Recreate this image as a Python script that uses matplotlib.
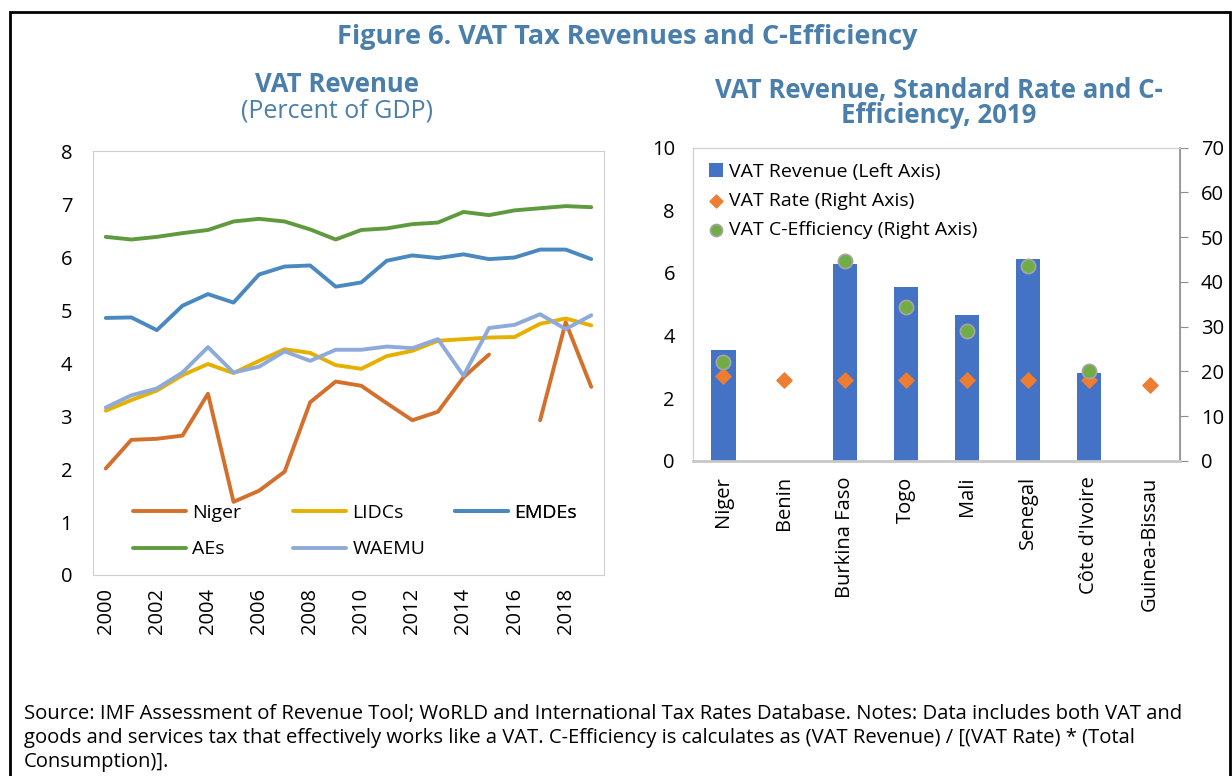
import numpy as np
import matplotlib
matplotlib.use("Agg")
import matplotlib.pyplot as plt
from matplotlib.patches import Rectangle

plt.rcParams["font.family"] = ["Open Sans", "DejaVu Sans"]

# --- left panel: VAT revenue, percent of GDP ---
years = list(range(2000, 2020))
niger = [2.01, 2.55, 2.57, 2.63, 3.42, 1.38, 1.59, 1.95, 3.26, 3.65,
         3.57, 3.24, 2.92, 3.08, 3.73, 4.16, np.nan, 2.92, 4.77, 3.55]
lidcs = [3.10, 3.30, 3.48, 3.77, 3.98, 3.81, 4.04, 4.26, 4.19, 3.96,
         3.89, 4.13, 4.23, 4.42, 4.45, 4.48, 4.49, 4.74, 4.84, 4.71]
emdes = [4.85, 4.86, 4.62, 5.08, 5.30, 5.14, 5.67, 5.82, 5.84, 5.44,
         5.52, 5.93, 6.03, 5.98, 6.05, 5.96, 5.99, 6.14, 6.14, 5.96]
aes = [6.38, 6.33, 6.38, 6.45, 6.51, 6.67, 6.72, 6.67, 6.52, 6.33,
       6.51, 6.54, 6.62, 6.65, 6.85, 6.79, 6.88, 6.92, 6.96, 6.94]
waemu = [3.16, 3.39, 3.52, 3.82, 4.30, 3.82, 3.93, 4.22, 4.04, 4.25,
         4.25, 4.31, 4.28, 4.45, 3.76, 4.66, 4.72, 4.92, 4.64, 4.90]

# --- right panel: 2019 by country ---
countries = ["Niger", "Benin", "Burkina Faso", "Togo", "Mali", "Senegal",
             "Côte d'Ivoire", "Guinea-Bissau"]
vat_revenue = [3.55, np.nan, 6.27, 5.55, 4.67, 6.44, 2.81, np.nan]
vat_rate = [19, 18, 18, 18, 18, 18, 18, 17]
c_efficiency = [22.0, np.nan, 44.7, 34.3, 29.0, 43.5, 20.2, np.nan]

TITLE_BLUE = "#4a7eab"
FRAME = "#d0d0d0"
W, H = 1232, 776


def fx(px):
    return px / W


def fy(py):
    return 1 - py / H


fig = plt.figure(figsize=(12.32, 7.76), dpi=100)

# outer black box
fig.patches.append(Rectangle((fx(10), -0.05), fx(1220), 1.05 - 12 / H,
                             transform=fig.transFigure, fill=False,
                             edgecolor="black", linewidth=2))

fig.text(fx(627), fy(37), "Figure 6. VAT Tax Revenues and C-Efficiency",
         ha="center", va="center", fontsize=19.5, fontweight="bold", color=TITLE_BLUE)
fig.text(fx(337), fy(85), "VAT Revenue", ha="center", va="center",
         fontsize=18.5, fontweight="bold", color=TITLE_BLUE)
fig.text(fx(337), fy(111), "(Percent of GDP)", ha="center", va="center",
         fontsize=18, color=TITLE_BLUE)
fig.text(fx(939), fy(103), "VAT Revenue, Standard Rate and C-\nEfficiency, 2019",
         ha="center", va="center", fontsize=18.5, fontweight="bold", color=TITLE_BLUE,
         linespacing=0.92)

# left chart
ax = fig.add_axes([fx(93), fy(575), fx(511), 424 / H])
series = [("Niger", niger, "#d4702c"), ("LIDCs", lidcs, "#e6b000"),
          ("EMDEs", emdes, "#4a89c0"), ("AEs", aes, "#5f9b3e"),
          ("WAEMU", waemu, "#8eaadb")]
handles = {}
for name, vals, col in series:
    handles[name], = ax.plot(years, vals, color=col, linewidth=2.8,
                             solid_capstyle="round", label=name)
ax.set_xlim(1999.5, 2019.5)
ax.set_ylim(0, 8)
ax.set_yticks(range(0, 9))
ax.set_xticks(range(2000, 2020, 2))
ax.tick_params(axis="both", length=0, labelsize=14.5)
ax.tick_params(axis="y", pad=15)
ax.tick_params(axis="x", pad=9, labelrotation=90)
for s in ax.spines.values():
    s.set_color(FRAME)

# legend laid out as three columns, like the spreadsheet legend
legend_cols = [(["Niger", "AEs"], 133), (["LIDCs", "WAEMU"], 293), (["EMDEs"], 455)]
for names, left in legend_cols:
    leg = ax.legend([handles[k] for k in names], names, loc="upper left",
                    bbox_to_anchor=(fx(left), fy(504)), bbox_transform=fig.transFigure,
                    frameon=False, fontsize=14, handlelength=2.75, handletextpad=0.3,
                    labelspacing=0.95, borderpad=0, borderaxespad=0)
    ax.add_artist(leg)

# right chart
ax2 = fig.add_axes([fx(693), fy(461), fx(487), 313.5 / H])
x = np.arange(len(countries))
ax2.bar(x, vat_revenue, width=0.4, color="#4472c4", label="VAT Revenue (Left Axis)")
ax2.set_xlim(-0.5, 7.5)
ax2.set_ylim(0, 10)
ax2.set_yticks(range(0, 11, 2))
ax2.set_xticks(x)
ax2.set_xticklabels(countries, rotation=90)
ax2.tick_params(axis="both", length=0, labelsize=14.5)
ax2.tick_params(axis="y", pad=13)
ax2.tick_params(axis="x", pad=11)
for s in ax2.spines.values():
    s.set_color(FRAME)

ax3 = ax2.twinx()
ax3.scatter(x, vat_rate, marker="D", s=60, color="#ed7d31", zorder=3,
            label="VAT Rate (Right Axis)")
ax3.scatter(x, c_efficiency, marker="o", s=105, color="#70ad47",
            edgecolor="#a5a5a5", linewidth=1.2, zorder=4,
            label="VAT C-Efficiency (Right Axis)")
ax3.set_ylim(0, 70)
ax3.set_yticks(range(0, 71, 10))
ax3.tick_params(axis="y", length=6, color="#8c8c8c", labelsize=14.5, pad=9)
for s in ax3.spines.values():
    s.set_color(FRAME)
ax3.spines["right"].set_color("#8c8c8c")
ax3.spines["right"].set_linewidth(1.2)
ax3.spines["bottom"].set_color("#c8c8c8")
ax3.spines["bottom"].set_linewidth(2)

h1, l1 = ax2.get_legend_handles_labels()
h2, l2 = ax3.get_legend_handles_labels()
ax3.legend(h1 + h2, l1 + l2, loc="upper left",
           bbox_to_anchor=(fx(709), fy(163)), bbox_transform=fig.transFigure,
           frameon=False, fontsize=14, handlelength=0.7, handletextpad=0.35,
           labelspacing=0.56, borderpad=0, borderaxespad=0, markerscale=0.85)

notes = ("Source: IMF Assessment of Revenue Tool; WoRLD and International Tax Rates Database. "
         "Notes: Data includes both VAT and\n"
         "goods and services tax that effectively works like a VAT. C-Efficiency is calculates as "
         "(VAT Revenue) / [(VAT Rate) * (Total\n"
         "Consumption)].")
fig.text(fx(24), fy(704), notes, ha="left", va="top", fontsize=14.55,
         linespacing=1.25)

fig.savefig("out.png", dpi=100)
